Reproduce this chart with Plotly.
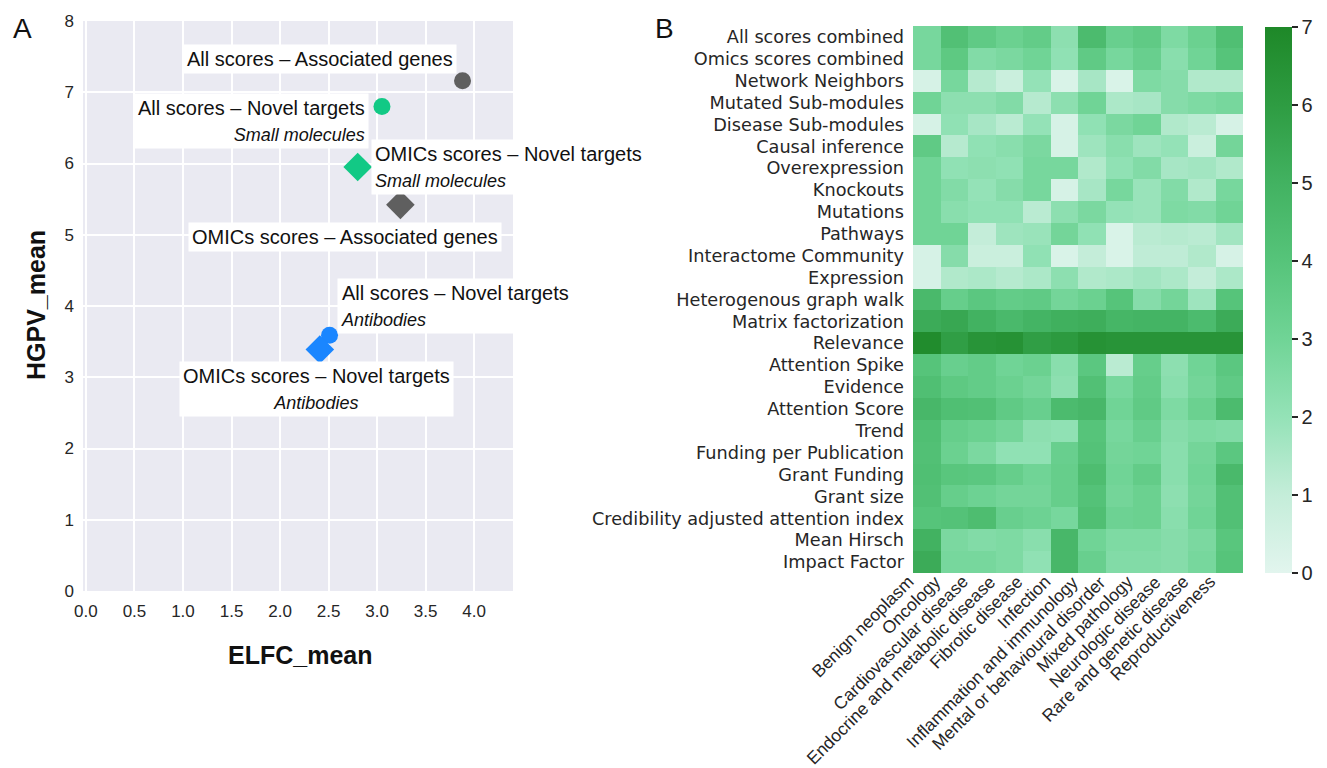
import plotly.graph_objects as go

# ---------------- Panel A data ----------------
point_names = [
    "All scores – Associated genes",
    "All scores – Novel targets",
    "OMICs scores – Novel targets",
    "OMICs scores – Associated genes",
    "All scores – Novel targets",
    "OMICs scores – Novel targets",
]
point_sub = ["", "Small molecules", "Small molecules", "", "Antibodies", "Antibodies"]
elfc_mean = [3.88, 3.05, 2.80, 3.24, 2.51, 2.41]
hgpv_mean = [7.16, 6.80, 5.95, 5.42, 3.59, 3.39]
point_symbol = ["circle", "circle", "diamond", "diamond", "circle", "diamond"]
point_color = ["#5f5f5f", "#12c985", "#12c985", "#5f5f5f", "#1a86ff", "#1a86ff"]
x_ticks = [0, 0.5, 1, 1.5, 2, 2.5, 3, 3.5, 4]
x_ticktext = ["0.0", "0.5", "1.0", "1.5", "2.0", "2.5", "3.0", "3.5", "4.0"]
y_ticks = [0, 1, 2, 3, 4, 5, 6, 7, 8]

# ---------------- Panel B data ----------------
score_types = [
    "All scores combined", "Omics scores combined", "Network Neighbors",
    "Mutated Sub-modules", "Disease Sub-modules", "Causal inference",
    "Overexpression", "Knockouts", "Mutations", "Pathways",
    "Interactome Community", "Expression", "Heterogenous graph walk",
    "Matrix factorization", "Relevance", "Attention Spike", "Evidence",
    "Attention Score", "Trend", "Funding per Publication", "Grant Funding",
    "Grant size", "Credibility adjusted attention index", "Mean Hirsch",
    "Impact Factor",
]
disease_areas = [
    "Benign neoplasm", "Oncology", "Cardiovascular disease",
    "Endocrine and metabolic disease", "Fibrotic disease", "Infection",
    "Inflammation and immunology", "Mental or behavioural disorder",
    "Mixed pathology", "Neurologic disease", "Rare and genetic disease",
    "Reproductiveness",
]
heat_values = [
    [2.8, 4.2, 3.6, 3.2, 3.5, 2.2, 4.5, 3.3, 3.6, 2.6, 3.2, 4.3],
    [2.8, 3.7, 2.5, 2.7, 3.0, 2.1, 3.6, 2.8, 3.3, 2.3, 3.0, 4.0],
    [0.4, 2.8, 1.3, 0.8, 2.0, 0.3, 1.6, 0.3, 2.6, 2.4, 1.4, 1.4],
    [3.0, 2.2, 2.2, 2.5, 1.3, 2.2, 3.0, 1.5, 1.6, 2.4, 2.6, 2.8],
    [0.4, 2.1, 1.6, 1.2, 2.0, 0.4, 2.1, 2.7, 3.0, 1.4, 1.2, 0.4],
    [3.6, 1.3, 2.1, 2.3, 2.7, 0.4, 1.8, 2.3, 1.8, 2.0, 0.8, 2.9],
    [3.0, 2.1, 2.2, 2.1, 2.8, 2.8, 1.4, 2.1, 2.5, 1.6, 1.7, 1.4],
    [3.0, 2.5, 2.0, 2.4, 2.8, 0.4, 1.6, 2.8, 1.9, 2.5, 1.4, 2.8],
    [3.0, 2.3, 2.1, 2.1, 1.2, 2.2, 2.7, 2.0, 1.9, 2.6, 2.5, 3.0],
    [3.0, 3.0, 1.0, 1.8, 1.9, 2.9, 2.1, 0.3, 1.2, 1.3, 1.2, 1.7],
    [0.4, 2.4, 0.8, 0.8, 2.1, 0.3, 1.0, 0.3, 1.1, 1.1, 1.4, 0.4],
    [0.4, 1.4, 1.5, 1.3, 1.5, 2.2, 1.4, 1.5, 1.7, 1.5, 1.0, 1.5],
    [4.6, 3.4, 3.8, 3.5, 3.6, 2.9, 3.2, 4.0, 2.4, 2.9, 1.8, 4.0],
    [5.3, 5.5, 5.0, 4.6, 4.9, 5.1, 5.2, 4.8, 4.9, 4.9, 4.5, 5.3],
    [6.8, 5.9, 6.4, 6.5, 5.9, 6.1, 6.5, 6.4, 6.4, 6.4, 6.4, 6.4],
    [4.0, 3.3, 3.5, 3.0, 3.2, 2.3, 3.8, 1.2, 3.4, 2.2, 3.0, 3.8],
    [4.3, 3.7, 3.5, 3.2, 2.9, 2.2, 4.2, 2.8, 3.5, 2.3, 2.9, 3.6],
    [4.7, 4.3, 4.2, 3.6, 3.3, 4.5, 4.7, 3.0, 3.6, 2.6, 3.2, 4.5],
    [4.3, 3.4, 3.2, 2.9, 2.2, 2.1, 4.0, 2.8, 3.3, 2.4, 2.6, 2.5],
    [4.2, 3.2, 2.7, 2.1, 2.1, 3.3, 4.1, 2.9, 3.0, 2.3, 2.9, 3.8],
    [4.3, 3.9, 3.8, 3.4, 3.0, 3.4, 4.4, 3.0, 3.5, 2.3, 3.0, 4.6],
    [4.2, 3.4, 3.1, 2.9, 2.9, 3.4, 4.1, 2.9, 3.2, 2.2, 2.9, 4.2],
    [4.0, 4.1, 4.4, 3.3, 3.1, 2.8, 4.3, 3.1, 3.2, 2.3, 3.0, 4.2],
    [5.0, 2.7, 2.5, 2.6, 2.3, 4.7, 3.0, 2.6, 2.6, 2.4, 2.7, 3.9],
    [5.3, 2.8, 2.8, 2.6, 2.1, 4.7, 3.3, 2.5, 2.5, 2.4, 2.8, 4.0],
]
cbar_ticks = [0, 1, 2, 3, 4, 5, 6, 7]

green_scale = [
    [0.0, "rgb(226,245,238)"],
    [1 / 7, "rgb(196,237,217)"],
    [2 / 7, "rgb(148,226,183)"],
    [3 / 7, "rgb(112,212,150)"],
    [4 / 7, "rgb(86,196,122)"],
    [5 / 7, "rgb(66,178,97)"],
    [6 / 7, "rgb(46,156,66)"],
    [1.0, "rgb(30,136,40)"],
]

W, H = 1327, 768
FONT = "Liberation Sans, Arial"

fig = go.Figure()

fig.add_trace(go.Scatter(
    x=elfc_mean, y=hgpv_mean, mode="markers",
    marker=dict(symbol=point_symbol, color=point_color, opacity=1,
                size=[17 if s == "circle" else 22 for s in point_symbol],
                line=dict(width=0)),
    xaxis="x", yaxis="y", showlegend=False, hoverinfo="skip",
))

fig.add_trace(go.Heatmap(
    z=heat_values, x=disease_areas, y=score_types,
    colorscale=green_scale, zmin=0, zmax=7,
    xaxis="x2", yaxis="y2",
    colorbar=dict(
        x=1265 / W, xanchor="left", xref="paper", xpad=0, ypad=0,
        y=(H - 300) / H, yanchor="middle", len=546 / H, lenmode="fraction",
        thickness=27, outlinewidth=0, tickvals=cbar_ticks,
        ticks="outside", ticklen=6, tickwidth=1.5, tickcolor="#262626",
        tickfont=dict(family=FONT, size=20, color="#262626"),
    ),
))

# label placement: (xanchor, yanchor, xshift, yshift, align)
label_pos = [
    ("right", "bottom", -6, 7, "center"),
    ("right", "top", -13, 14, "right"),
    ("left", "middle", 13, 0, "left"),
    ("center", "top", -55, -17, "center"),
    ("left", "bottom", 7, 1, "left"),
    ("center", "top", -3, -12, "center"),
]
for nm, sub, xv, yv, (xa, ya, xs, ys, al) in zip(point_names, point_sub, elfc_mean, hgpv_mean, label_pos):
    txt = nm if not sub else f"{nm}<br><i><span style='font-size:18px'>{sub}</span></i>"
    fig.add_annotation(
        x=xv, y=yv, xref="x", yref="y", text=txt, showarrow=False,
        xanchor=xa, yanchor=ya, xshift=xs, yshift=ys, align=al,
        bgcolor="white", borderpad=3,
        font=dict(family=FONT, size=20, color="#111111"),
    )

# rotated category labels of panel B (right/top aligned like matplotlib)
for cat in disease_areas:
    fig.add_annotation(
        x=cat, y=0, xref="x2", yref="y2 domain", text=cat, showarrow=False,
        textangle=-45, xanchor="right", yanchor="top", yshift=4, xshift=-7,
        font=dict(family=FONT, size=17.5, color="#262626"),
    )

# panel letters
fig.add_annotation(x=11 / W, y=(H - 28) / H, xref="paper", yref="paper",
                   text="A", showarrow=False, xanchor="left", yanchor="middle",
                   font=dict(family=FONT, size=28, color="#111111"))
fig.add_annotation(x=653 / W, y=(H - 28) / H, xref="paper", yref="paper",
                   text="B", showarrow=False, xanchor="left", yanchor="middle",
                   font=dict(family=FONT, size=28, color="#111111"))

# axis titles of panel A
fig.add_annotation(x=300 / W, y=(H - 655) / H, xref="paper", yref="paper",
                   text="<b>ELFC_mean</b>", showarrow=False,
                   xanchor="center", yanchor="middle",
                   font=dict(family=FONT, size=25, color="#111111"))
fig.add_annotation(x=36 / W, y=(H - 305) / H, xref="paper", yref="paper",
                   text="<b>HGPV_mean</b>", showarrow=False, textangle=-90,
                   xanchor="center", yanchor="middle",
                   font=dict(family=FONT, size=25, color="#111111"))

tick_font = dict(family=FONT, size=17, color="#262626")

fig.update_layout(
    width=W, height=H,
    margin=dict(l=0, r=0, t=0, b=0, autoexpand=False),
    paper_bgcolor="white", plot_bgcolor="#eaeaf2",
    xaxis=dict(domain=[83 / W, 513 / W], range=[-0.03, 4.4],
               tickvals=x_ticks, ticktext=x_ticktext,
               showgrid=True, gridcolor="white", gridwidth=2, zeroline=False,
               showline=False, ticks="", tickfont=tick_font,
               ticklabelstandoff=8, automargin=False),
    yaxis=dict(domain=[(H - 591) / H, (H - 21) / H], range=[0, 8],
               tickvals=y_ticks,
               showgrid=True, gridcolor="white", gridwidth=2, zeroline=False,
               showline=False, ticks="", tickfont=tick_font,
               ticklabelstandoff=8, automargin=False),
    xaxis2=dict(domain=[913 / W, 1243 / W], anchor="y2",
                range=[-0.5, len(disease_areas) - 0.5], autorange=False,
                showgrid=False, zeroline=False, showline=False, ticks="",
                showticklabels=False, automargin=False),
    yaxis2=dict(domain=[(H - 573) / H, (H - 26) / H], anchor="x2",
                range=[len(score_types) - 0.5, -0.5], autorange=False,
                showgrid=False, zeroline=False, showline=False,
                ticks="", ticklabelstandoff=8, automargin=False,
                tickfont=dict(family="DejaVu Sans", size=17.7, color="#262626")),
)

fig.write_html(
    "out.html",
    config={"displayModeBar": False},
    post_script="document.body.style.margin='0px';document.body.style.overflow='hidden';",
)
